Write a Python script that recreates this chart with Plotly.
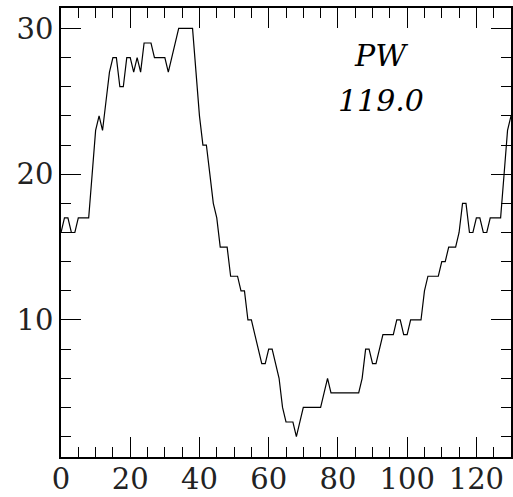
import plotly.graph_objects as go

# ── Data ─────────────────────────────────────────────────────────────────────
x_vals = list(range(0, 131))

pw_vals = [
    16, 17, 17, 16, 16, 17, 17, 17, 17, 20,   # 0-9
    23, 24, 23, 25, 27, 28, 28, 26, 26, 28,   # 10-19
    28, 27, 28, 27, 29, 29, 29, 28, 28, 28,   # 20-29
    28, 27, 28, 29, 30, 30, 30, 30, 30, 27,   # 30-39
    24, 22, 22, 20, 18, 17, 15, 15, 15, 13,   # 40-49
    13, 13, 12, 12, 10, 10, 9, 8, 7, 7,       # 50-59
    8, 8, 7, 6, 4, 3, 3, 3, 2, 3,             # 60-69
    4, 4, 4, 4, 4, 4, 5, 6, 5, 5,             # 70-79
    5, 5, 5, 5, 5, 5, 5, 6, 8, 8,             # 80-89
    7, 7, 8, 9, 9, 9, 9, 10, 10, 9,           # 90-99
    9, 10, 10, 10, 10, 12, 13, 13, 13, 13,    # 100-109
    14, 14, 15, 15, 15, 16, 18, 18, 16, 16,   # 110-119
    17, 17, 16, 16, 17, 17, 17, 17, 20, 23,   # 120-129
    24,                                       # 130
]

x_ticks = [0, 20, 40, 60, 80, 100, 120]
y_ticks = [10, 20, 30]

label_name = "PW"
label_value = "119.0"

FONT = "DejaVu Serif"

# ── Figure ───────────────────────────────────────────────────────────────────
fig = go.Figure()

fig.add_trace(go.Scatter(
    x=x_vals, y=pw_vals,
    mode="lines",
    line=dict(color="black", width=1.2),
    showlegend=False,
    hoverinfo="skip",
))

for txt, ypos in [(label_name, 0.895), (label_value, 0.795)]:
    fig.add_annotation(
        xref="paper", yref="paper", x=0.712, y=ypos,
        xanchor="center", yanchor="middle",
        text=f"<i>{txt}</i>", showarrow=False,
        font=dict(family=FONT, size=30, color="black"),
    )

axis_common = dict(
    showgrid=False, zeroline=False, automargin=False,
    showline=True, linecolor="black", linewidth=1.5,
    mirror="allticks",
    ticks="inside", ticklen=20, tickwidth=1, tickcolor="black",
    tickfont=dict(family=FONT, size=29, color="#222222"),
)

fig.update_layout(
    width=513, height=497,
    margin=dict(l=61, r=2, t=8, b=40),
    plot_bgcolor="white", paper_bgcolor="white",
    xaxis=dict(
        range=[0, 130], tickvals=x_ticks, ticklabelstandoff=-5,
        minor=dict(dtick=5, tick0=0, ticks="inside", ticklen=10,
                   tickwidth=1, tickcolor="black"),
        **axis_common,
    ),
    yaxis=dict(
        range=[0.6, 31.4], tickvals=y_ticks,
        minor=dict(dtick=2, tick0=0, ticks="inside", ticklen=10,
                   tickwidth=1, tickcolor="black"),
        **axis_common,
    ),
)

# page body has an 8px default margin; drop it so the figure sits at 0,0
fig.write_html("out.html", config={"displayModeBar": False},
               post_script="document.body.style.margin='0';")
